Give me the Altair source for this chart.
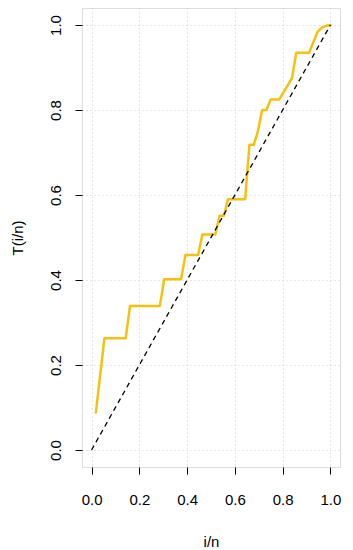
import altair as alt
import pandas as pd

# TTT curve vertices
ttt_x = [0.018, 0.054, 0.143, 0.161, 0.286, 0.304, 0.375, 0.393, 0.446, 0.464,
         0.518, 0.536, 0.554, 0.571, 0.643, 0.661, 0.679, 0.696, 0.714, 0.732,
         0.750, 0.786, 0.839, 0.857, 0.911, 0.946, 0.964, 0.982, 1.0]
ttt_y = [0.088, 0.263, 0.263, 0.339, 0.339, 0.402, 0.402, 0.459, 0.459, 0.507,
         0.507, 0.551, 0.551, 0.590, 0.590, 0.718, 0.718, 0.749, 0.800, 0.800,
         0.825, 0.825, 0.875, 0.935, 0.935, 0.984, 0.994, 0.998, 1.0]

diag_x = [0.0, 1.0]
diag_y = [0.0, 1.0]

tick_vals = [0.0, 0.2, 0.4, 0.6, 0.8, 1.0]

ttt_df = pd.DataFrame({"x": ttt_x, "y": ttt_y, "o": list(range(len(ttt_x)))})
diag_df = pd.DataFrame({"x": diag_x, "y": diag_y})

FONT = "Liberation Sans"

xscale = alt.Scale(domain=[-0.04, 1.04], nice=False, zero=False)
yscale = alt.Scale(domain=[-0.04, 1.04], nice=False, zero=False)

xaxis = alt.Axis(values=tick_vals, format=".1f", title="i/n", domain=False,
                 tickColor="black", tickSize=7, tickWidth=1,
                 labelFont=FONT, labelFontSize=15, labelColor="black", labelPadding=18,
                 titleFont=FONT, titleFontSize=15, titleFontWeight="normal",
                 titleColor="black", titlePadding=27,
                 grid=True, gridColor="#cccccc", gridDash=[1, 3], gridWidth=1)
yaxis = alt.Axis(values=tick_vals, format=".1f", title="T(i/n)", domain=False,
                 tickColor="black", tickSize=7, tickWidth=1,
                 labelFont=FONT, labelFontSize=15, labelColor="black", labelPadding=12,
                 labelAngle=270, labelAlign="center", labelBaseline="bottom",
                 titleFont=FONT, titleFontSize=15, titleFontWeight="normal",
                 titleColor="black", titlePadding=23,
                 grid=True, gridColor="#cccccc", gridDash=[1, 3], gridWidth=1)

ttt = alt.Chart(ttt_df).mark_line(color="#F4C20D", strokeWidth=2.5, strokeJoin="round",
                                  strokeCap="round").encode(
    x=alt.X("x:Q", scale=xscale, axis=xaxis),
    y=alt.Y("y:Q", scale=yscale, axis=yaxis),
    order="o:Q",
)

diag = alt.Chart(diag_df).mark_line(color="black", strokeWidth=1.3, strokeDash=[5, 4]).encode(
    x=alt.X("x:Q", scale=xscale),
    y=alt.Y("y:Q", scale=yscale),
)

chart = alt.layer(ttt, diag).properties(
    width=258,
    height=459,
    autosize=alt.AutoSizeParams(type="none"),
    padding={"left": 74, "top": 0, "right": 5, "bottom": 82},
).configure_view(
    stroke="black", strokeWidth=1.2
).configure(background="white")

chart.save("out.html", embed_options={"renderer": "svg", "actions": False})
